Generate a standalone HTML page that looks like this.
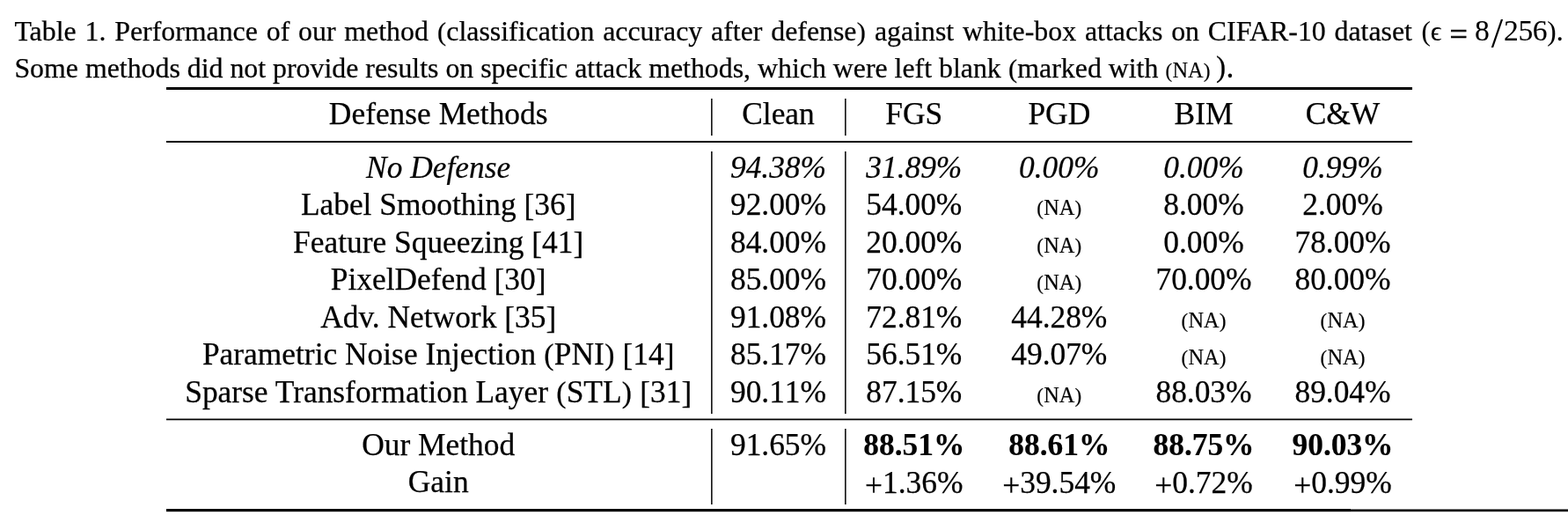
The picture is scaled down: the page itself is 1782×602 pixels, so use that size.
<!DOCTYPE html>
<html lang="en"><head><meta charset="utf-8"><title>Table 1</title>
<style>
html,body{margin:0;padding:0;background:#fff;}
body{width:1782px;height:602px;position:relative;overflow:hidden;font-family:"Liberation Serif",serif;color:#000;}
p{margin:0;}
.t{position:absolute;display:block;white-space:nowrap;line-height:40px;-webkit-text-stroke:0.25px #000;}
.n{font-kerning:none;}
.r{position:absolute;display:block;}
.p{position:relative;top:3px;}
.q{font-size:95%;margin:0 0.0088em;}
.k{position:relative;top:1px;}
.na{font-size:24.3px;-webkit-text-stroke-width:0.2px;}
</style></head><body>
<p class="caption">
<span class="t" style="left:16.4px;top:16px;font-size:31.85px;width:1588.6px;text-align:justify;text-align-last:justify">Table 1. Performance of our method <span class="q">(</span>classification accuracy after defense<span class="q">)</span> against white-box attacks on CIFAR-10 dataset</span>
<span class="t" style="left:1615.5px;top:16px;font-size:31px;-webkit-text-stroke-width:0.1px;">(</span>
<span class="t" style="left:1625.7px;top:16px;font-size:31px;-webkit-text-stroke-width:0.2px;">ϵ</span>
<span class="t" style="left:1647.5px;top:9px;font-size:36.1px;-webkit-text-stroke-width:0.7px;line-height:60px;">=</span>
<span class="t" style="left:1676px;top:15px;font-size:33.6px;-webkit-text-stroke-width:0.1px;">8</span>
<span class="t" style="left:1694.7px;top:8px;font-size:48px;-webkit-text-stroke-width:0;line-height:60px;">/</span>
<span class="t" style="left:1709.1px;top:15px;font-size:33.6px;letter-spacing:-0.4px;-webkit-text-stroke-width:0.1px;">256</span>
<span class="t" style="left:1758.3px;top:16px;font-size:31px;-webkit-text-stroke-width:0.1px;">)</span>
<span class="t" style="left:1768.7px;top:16px;font-size:31.85px;">.</span>
<span class="t" style="left:16.4px;top:58px;font-size:31.85px;">Some methods did not provide results on specific attack methods, which were left blank <span class="q">(</span>marked with <span class="na"><span class="q">(</span>NA<span class="q">)</span></span></span>
<span class="t" style="left:1381.9px;top:56px;font-size:33.3px;">)</span>
<span class="t" style="left:1393.6px;top:56px;font-size:35.4px;">.</span>
</p>
<div class="rules" aria-hidden="true">
<i class="r" style="left:189px;top:99px;width:1416px;height:3px;background:#000"></i>
<i class="r" style="left:189px;top:160px;width:1416px;height:2px;background:#000"></i>
<i class="r" style="left:189px;top:475px;width:1416px;height:1px;background:#8a8a8a"></i>
<i class="r" style="left:189px;top:476px;width:1416px;height:1px;background:#000"></i>
<i class="r" style="left:189px;top:477px;width:1416px;height:1px;background:#b8b8b8"></i>
<i class="r" style="left:189px;top:578px;width:1346px;height:3px;background:#000"></i>
<i class="r" style="left:189px;top:581px;width:1346px;height:1px;background:#d8d8d8"></i>
<i class="r" style="left:1535px;top:578px;width:247px;height:1px;background:#707070"></i>
<i class="r" style="left:1535px;top:579px;width:247px;height:1px;background:#0c0c0c"></i>
<i class="r" style="left:1535px;top:580px;width:247px;height:1px;background:#1c1c1c"></i>
<i class="r" style="left:1535px;top:581px;width:247px;height:1px;background:#d0d0d0"></i>
<i class="r" style="left:808px;top:112px;width:1px;height:42px;background:#161616"></i>
<i class="r" style="left:809px;top:112px;width:1px;height:42px;background:#686868"></i>
<i class="r" style="left:808px;top:172px;width:1px;height:298px;background:#161616"></i>
<i class="r" style="left:809px;top:172px;width:1px;height:298px;background:#686868"></i>
<i class="r" style="left:808px;top:487px;width:1px;height:86px;background:#161616"></i>
<i class="r" style="left:809px;top:487px;width:1px;height:86px;background:#686868"></i>
<i class="r" style="left:960px;top:112px;width:1px;height:42px;background:#161616"></i>
<i class="r" style="left:961px;top:112px;width:1px;height:42px;background:#686868"></i>
<i class="r" style="left:960px;top:172px;width:1px;height:298px;background:#161616"></i>
<i class="r" style="left:961px;top:172px;width:1px;height:298px;background:#686868"></i>
<i class="r" style="left:960px;top:487px;width:1px;height:86px;background:#161616"></i>
<i class="r" style="left:961px;top:487px;width:1px;height:86px;background:#686868"></i>
</div>
<div class="table" role="table">
<div role="row">
<span class="t" role="columnheader" style="left:98.2px;width:800px;text-align:center;top:109px;font-size:35.4px;">Defense Methods</span>
<span class="t" role="columnheader" style="left:484.5px;width:800px;text-align:center;top:109px;font-size:35.4px;">Clean</span>
<span class="t" role="columnheader" style="left:638.8px;width:800px;text-align:center;top:109px;font-size:35.4px;">FGS</span>
<span class="t" role="columnheader" style="left:803.8px;width:800px;text-align:center;top:109px;font-size:35.4px;">PGD</span>
<span class="t" role="columnheader" style="left:968px;width:800px;text-align:center;top:109px;font-size:35.4px;">BIM</span>
<span class="t" role="columnheader" style="left:1126px;width:800px;text-align:center;top:109px;font-size:35.4px;">C&amp;W</span>
</div>
<div role="row">
<span class="t" role="cell" style="left:98.2px;width:800px;text-align:center;top:170px;font-size:35.4px;font-style:italic;-webkit-text-stroke-width:0.2px;">No Defense</span>
<span class="t n" role="cell" style="left:484.5px;width:800px;text-align:center;top:170px;font-size:35.4px;font-style:italic;-webkit-text-stroke-width:0.2px;">94.38%</span>
<span class="t n" role="cell" style="left:638.8px;width:800px;text-align:center;top:170px;font-size:35.4px;font-style:italic;-webkit-text-stroke-width:0.2px;">31.89%</span>
<span class="t n" role="cell" style="left:803.8px;width:800px;text-align:center;top:170px;font-size:35.4px;font-style:italic;-webkit-text-stroke-width:0.2px;">0.00%</span>
<span class="t n" role="cell" style="left:968px;width:800px;text-align:center;top:170px;font-size:35.4px;font-style:italic;-webkit-text-stroke-width:0.2px;">0.00%</span>
<span class="t n" role="cell" style="left:1126px;width:800px;text-align:center;top:170px;font-size:35.4px;font-style:italic;-webkit-text-stroke-width:0.2px;">0.99%</span>
</div>
<div role="row">
<span class="t" role="cell" style="left:98.2px;width:800px;text-align:center;top:212px;font-size:35.4px;">Label Smoothing <span class="k">[</span>36<span class="k">]</span></span>
<span class="t n" role="cell" style="left:484.5px;width:800px;text-align:center;top:212px;font-size:35.4px;">92.00%</span>
<span class="t n" role="cell" style="left:638.8px;width:800px;text-align:center;top:212px;font-size:35.4px;">54.00%</span>
<span class="t" role="cell" style="left:803.8px;width:800px;text-align:center;top:216px;font-size:24.3px;-webkit-text-stroke-width:0.2px;"><span class="q">(</span>NA<span class="q">)</span></span>
<span class="t n" role="cell" style="left:968px;width:800px;text-align:center;top:212px;font-size:35.4px;">8.00%</span>
<span class="t n" role="cell" style="left:1126px;width:800px;text-align:center;top:212px;font-size:35.4px;">2.00%</span>
</div>
<div role="row">
<span class="t" role="cell" style="left:98.2px;width:800px;text-align:center;top:255px;font-size:35.4px;">Feature Squeezing <span class="k">[</span>41<span class="k">]</span></span>
<span class="t n" role="cell" style="left:484.5px;width:800px;text-align:center;top:255px;font-size:35.4px;">84.00%</span>
<span class="t n" role="cell" style="left:638.8px;width:800px;text-align:center;top:255px;font-size:35.4px;">20.00%</span>
<span class="t" role="cell" style="left:803.8px;width:800px;text-align:center;top:259px;font-size:24.3px;-webkit-text-stroke-width:0.2px;"><span class="q">(</span>NA<span class="q">)</span></span>
<span class="t n" role="cell" style="left:968px;width:800px;text-align:center;top:255px;font-size:35.4px;">0.00%</span>
<span class="t n" role="cell" style="left:1126px;width:800px;text-align:center;top:255px;font-size:35.4px;">78.00%</span>
</div>
<div role="row">
<span class="t" role="cell" style="left:98.2px;width:800px;text-align:center;top:297px;font-size:35.4px;">PixelDefend <span class="k">[</span>30<span class="k">]</span></span>
<span class="t n" role="cell" style="left:484.5px;width:800px;text-align:center;top:297px;font-size:35.4px;">85.00%</span>
<span class="t n" role="cell" style="left:638.8px;width:800px;text-align:center;top:297px;font-size:35.4px;">70.00%</span>
<span class="t" role="cell" style="left:803.8px;width:800px;text-align:center;top:301px;font-size:24.3px;-webkit-text-stroke-width:0.2px;"><span class="q">(</span>NA<span class="q">)</span></span>
<span class="t n" role="cell" style="left:968px;width:800px;text-align:center;top:297px;font-size:35.4px;">70.00%</span>
<span class="t n" role="cell" style="left:1126px;width:800px;text-align:center;top:297px;font-size:35.4px;">80.00%</span>
</div>
<div role="row">
<span class="t" role="cell" style="left:98.2px;width:800px;text-align:center;top:340px;font-size:35.4px;">Adv. Network <span class="k">[</span>35<span class="k">]</span></span>
<span class="t n" role="cell" style="left:484.5px;width:800px;text-align:center;top:340px;font-size:35.4px;">91.08%</span>
<span class="t n" role="cell" style="left:638.8px;width:800px;text-align:center;top:340px;font-size:35.4px;">72.81%</span>
<span class="t n" role="cell" style="left:803.8px;width:800px;text-align:center;top:340px;font-size:35.4px;">44.28%</span>
<span class="t" role="cell" style="left:968px;width:800px;text-align:center;top:344px;font-size:24.3px;-webkit-text-stroke-width:0.2px;"><span class="q">(</span>NA<span class="q">)</span></span>
<span class="t" role="cell" style="left:1126px;width:800px;text-align:center;top:344px;font-size:24.3px;-webkit-text-stroke-width:0.2px;"><span class="q">(</span>NA<span class="q">)</span></span>
</div>
<div role="row">
<span class="t" role="cell" style="left:98.2px;width:800px;text-align:center;top:382px;font-size:35.4px;">Parametric Noise Injection <span class="q">(</span>PNI<span class="q">)</span> <span class="k">[</span>14<span class="k">]</span></span>
<span class="t n" role="cell" style="left:484.5px;width:800px;text-align:center;top:382px;font-size:35.4px;">85.17%</span>
<span class="t n" role="cell" style="left:638.8px;width:800px;text-align:center;top:382px;font-size:35.4px;">56.51%</span>
<span class="t n" role="cell" style="left:803.8px;width:800px;text-align:center;top:382px;font-size:35.4px;">49.07%</span>
<span class="t" role="cell" style="left:968px;width:800px;text-align:center;top:386px;font-size:24.3px;-webkit-text-stroke-width:0.2px;"><span class="q">(</span>NA<span class="q">)</span></span>
<span class="t" role="cell" style="left:1126px;width:800px;text-align:center;top:386px;font-size:24.3px;-webkit-text-stroke-width:0.2px;"><span class="q">(</span>NA<span class="q">)</span></span>
</div>
<div role="row">
<span class="t" role="cell" style="left:98.2px;width:800px;text-align:center;top:425px;font-size:35.4px;">Sparse Transformation Layer <span class="q">(</span>STL<span class="q">)</span> <span class="k">[</span>31<span class="k">]</span></span>
<span class="t n" role="cell" style="left:484.5px;width:800px;text-align:center;top:425px;font-size:35.4px;">90.11%</span>
<span class="t n" role="cell" style="left:638.8px;width:800px;text-align:center;top:425px;font-size:35.4px;">87.15%</span>
<span class="t" role="cell" style="left:803.8px;width:800px;text-align:center;top:429px;font-size:24.3px;-webkit-text-stroke-width:0.2px;"><span class="q">(</span>NA<span class="q">)</span></span>
<span class="t n" role="cell" style="left:968px;width:800px;text-align:center;top:425px;font-size:35.4px;">88.03%</span>
<span class="t n" role="cell" style="left:1126px;width:800px;text-align:center;top:425px;font-size:35.4px;">89.04%</span>
</div>
<div role="row">
<span class="t" role="cell" style="left:98.2px;width:800px;text-align:center;top:485px;font-size:35.4px;">Our Method</span>
<span class="t n" role="cell" style="left:484.5px;width:800px;text-align:center;top:485px;font-size:35.4px;">91.65%</span>
<span class="t n" role="cell" style="left:638.8px;width:800px;text-align:center;top:485px;font-size:35.4px;-webkit-text-stroke-width:0.15px;"><b>88.51%</b></span>
<span class="t n" role="cell" style="left:803.8px;width:800px;text-align:center;top:485px;font-size:35.4px;-webkit-text-stroke-width:0.15px;"><b>88.61%</b></span>
<span class="t n" role="cell" style="left:968px;width:800px;text-align:center;top:485px;font-size:35.4px;-webkit-text-stroke-width:0.15px;"><b>88.75%</b></span>
<span class="t n" role="cell" style="left:1126px;width:800px;text-align:center;top:485px;font-size:35.4px;-webkit-text-stroke-width:0.15px;"><b>90.03%</b></span>
</div>
<div role="row">
<span class="t" role="cell" style="left:98.2px;width:800px;text-align:center;top:527px;font-size:35.4px;">Gain</span>
<span class="t n" role="cell" style="left:638.8px;width:800px;text-align:center;top:528px;font-size:35.4px;"><span class="p">+</span>1.36%</span>
<span class="t n" role="cell" style="left:803.8px;width:800px;text-align:center;top:528px;font-size:35.4px;"><span class="p">+</span>39.54%</span>
<span class="t n" role="cell" style="left:968px;width:800px;text-align:center;top:528px;font-size:35.4px;"><span class="p">+</span>0.72%</span>
<span class="t n" role="cell" style="left:1126px;width:800px;text-align:center;top:528px;font-size:35.4px;"><span class="p">+</span>0.99%</span>
</div>
</div>
</body></html>
